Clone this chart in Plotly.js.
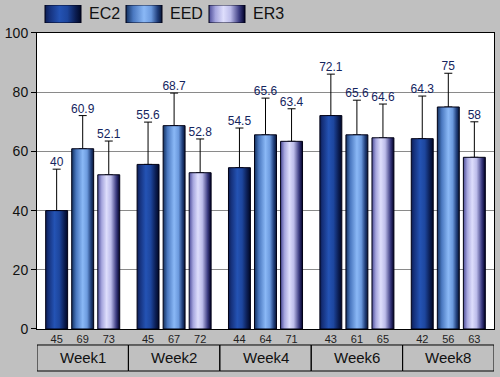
<!DOCTYPE html>
<html><head><meta charset="utf-8">
<script src="https://cdn.plot.ly/plotly-3.0.1.min.js"></script>
<style>html,body{margin:0;padding:0;background:#c0c0c0;}#chart{width:500px;height:377px;}</style>
</head><body><div id="chart"></div>
<script>
var weeks = ['Week1','Week2','Week4','Week6','Week8'];
var seriesNames = ['EC2','EED','ER3'];
var ec2 = [40, 55.6, 54.5, 72.1, 64.3];
var eed = [60.9, 68.7, 65.6, 65.6, 75];
var er3 = [52.1, 52.8, 63.4, 64.6, 58];
var ec2Err = [14, 14.3, 13.4, 14, 14.4];
var eedErr = [11.2, 11, 12.4, 11.7, 11.4];
var er3Err = [11.4, 11.4, 11, 11.4, 12];
var ec2N = [45, 45, 44, 43, 42];
var eedN = [69, 67, 64, 61, 56];
var er3N = [73, 72, 71, 65, 63];

var values = [ec2, eed, er3];
var errs = [ec2Err, eedErr, er3Err];
var ns = [ec2N, eedN, er3N];
var scales = [
  [[0,'#0c1d52'],[0.12,'#15307a'],[0.4,'#2453b4'],[0.62,'#1d469e'],[0.85,'#0b1d52'],[1,'#000826']],
  [[0,'#12305f'],[0.2,'#4a78c0'],[0.5,'#8ab8f6'],[0.7,'#6c9ade'],[0.88,'#203e7a'],[1,'#081535']],
  [[0,'#4c4c98'],[0.18,'#a6a6de'],[0.4,'#dedefc'],[0.6,'#bcbcea'],[0.84,'#3c3c82'],[1,'#000026']]
];
var pitch = 0.285, bw = 0.24;
var traces = [];
var tickvals = [], ticktext = [];
for (var s = 0; s < 3; s++) {
  var xs = [], ys = [], tx = [];
  for (var i = 0; i < weeks.length; i++) {
    xs.push(i + (s - 1) * pitch);
    ys.push(values[s][i] + errs[s][i]);
    tx.push(String(values[s][i]));
  }
  traces.push({type:'scatter', mode:'text', x:xs, y:ys, text:tx, textposition:'top center',
    textfont:{family:'Liberation Sans, Arial', size:12, color:'#14245e'},
    error_y:{type:'data', symmetric:false, array:errs[s].map(function(){return 0;}), arrayminus:errs[s], width:4, thickness:1, color:'#000'},
    showlegend:false, hoverinfo:'skip', xaxis:'x', yaxis:'y'});
}
for (var s = 0; s < 3; s++) {
  for (var i = 0; i < weeks.length; i++) {
    var c = i + (s - 1) * pitch;
    var x0 = c - bw / 2, x1 = c + bw / 2, v = values[s][i];
    traces.push({type:'scatter', mode:'lines', x:[x0,x0,x1,x1,x0], y:[0,v,v,0,0],
      fill:'toself', fillgradient:{type:'horizontal', colorscale:scales[s]},
      line:{color:'#000015', width:1}, showlegend:false, hoverinfo:'skip', xaxis:'x', yaxis:'y'});
    tickvals.push(c); ticktext.push(String(ns[s][i]));
  }
}
var legX = [8, 89, 172], legW = 36;
for (var s = 0; s < 3; s++) {
  var a = legX[s], b = legX[s] + legW;
  traces.push({type:'scatter', mode:'lines', x:[a,a,b,b,a], y:[0,1,1,0,0], fill:'toself',
    fillgradient:{type:'horizontal', colorscale:scales[s]}, line:{color:'#000015', width:1},
    showlegend:false, hoverinfo:'skip', xaxis:'x2', yaxis:'y2'});
}
var shapes = [{type:'rect', xref:'paper', yref:'y', x0:0, x1:1, y0:0, y1:100, layer:'below',
  fillcolor:'#ffffff', line:{width:0}}];
var annotations = [];
for (var i = 0; i < weeks.length; i++) {
  shapes.push({type:'rect', xref:'x', yref:'paper', x0:i-0.5, x1:i+0.5, y0:-0.1277, y1:-0.0486,
    line:{color:'#000', width:1}, fillcolor:'rgba(0,0,0,0)'});
  annotations.push({xref:'x', yref:'paper', x:i, y:-0.088, text:weeks[i], showarrow:false,
    font:{family:'Liberation Sans, Arial', size:15, color:'#111'}, xanchor:'center', yanchor:'middle'});
}
var legTextX = [87, 168, 251];
for (var s = 0; s < 3; s++) {
  annotations.push({xref:'paper', yref:'paper', x:(legTextX[s]-37)/457, y:1-14/329, text:seriesNames[s],
    showarrow:false, xanchor:'left', yanchor:'middle',
    font:{family:'Liberation Sans, Arial', size:16, color:'#111'}});
}
var layout = {
  width:500, height:377, paper_bgcolor:'#c0c0c0', plot_bgcolor:'rgba(0,0,0,0)',
  margin:{l:37, r:6, t:0, b:48}, showlegend:false,
  xaxis:{range:[-0.5,4.5], domain:[0,1], tickmode:'array', tickvals:tickvals, ticktext:ticktext,
    ticks:'', showgrid:false, zeroline:false, showline:true, linecolor:'#000', linewidth:1, mirror:true,
    tickfont:{family:'Liberation Sans, Arial', size:11, color:'#222'}, fixedrange:true},
  yaxis:{range:[0,100], domain:[0,0.8997], tickvals:[0,20,40,60,80,100], ticks:'outside', ticklen:5,
    tickcolor:'#000', showgrid:true, gridcolor:'#8a8a8a', gridwidth:1, zeroline:false,
    showline:true, linecolor:'#000', linewidth:1, mirror:true,
    tickfont:{family:'Liberation Sans, Arial', size:14, color:'#111'}, fixedrange:true},
  xaxis2:{domain:[0,1], range:[0,457], anchor:'y2', visible:false, fixedrange:true},
  yaxis2:{domain:[0.930,0.985], range:[0,1], anchor:'x2', visible:false, fixedrange:true},
  shapes:shapes, annotations:annotations
};
Plotly.newPlot('chart', traces, layout, {staticPlot:true});
</script></body></html>
